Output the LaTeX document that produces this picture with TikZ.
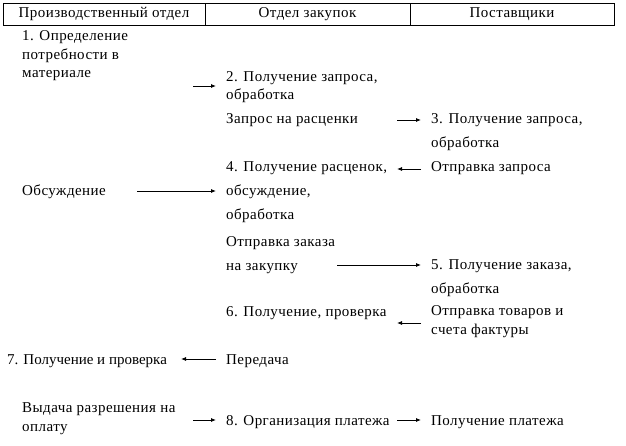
\documentclass[tikz,border=0pt]{standalone}
\usepackage{fontspec}
\setmainfont[LetterSpace=3]{Liberation Serif}
\usetikzlibrary{arrows.meta}

\begin{document}
\begin{tikzpicture}[
    x=1pt, y=-1pt,
    every node/.style={font=\fontsize{15}{18.5}\selectfont},
    head/.style={draw, line width=0.8pt, minimum height=22pt, inner sep=0pt},
    item/.style={anchor=base west, align=left, inner sep=0pt},
    wide/.style={font=\fontsize{15}{24}\selectfont},
    tight/.style={font=\fontsize{15}{18.5}\selectfont\addfontfeatures{LetterSpace=0}},
    arrow/.style={-{Latex[length=5pt, width=4pt]}, line width=0.8pt}
]
\useasboundingbox (0,0) rectangle (626,446);

% Header
\node[head, minimum width=202pt] (hprod) at (104,14) {Производственный отдел};
\node[head, minimum width=205pt] (hzak) at (307.5,14) {Отдел закупок};
\node[head, minimum width=204pt] (hpost) at (512,14) {Поставщики};

% Production department (anchor = last line)
\node[item] (need) at (22,78) {1. Определение\\потребности в\\материале};
\node[item] (discuss) at (22,196) {Обсуждение};
\node[item, tight] (check) at (7,364) {7. Получение и проверка};
\node[item] (permit) at (22,431) {Выдача разрешения на\\оплату};

% Purchasing department
\node[item] (req) at (226,100) {2. Получение запроса,\\обработка};
\node[item] (quote) at (226,124) {Запрос на расценки};
\node[item, wide] (prices) at (226,220) {4. Получение расценок,\\обсуждение,\\обработка};
\node[item, wide] (order) at (226,270) {Отправка заказа\\на закупку};
\node[item] (receive) at (226,316) {6. Получение, проверка};
\node[item] (handover) at (226,364) {Передача};
\node[item] (payment) at (226,425) {8. Организация платежа};

% Suppliers
\node[item, wide] (supreq) at (431,148) {3. Получение запроса,\\обработка};
\node[item] (sendreq) at (431,172) {Отправка запроса};
\node[item, wide] (suporder) at (431,293) {5. Получение заказа,\\обработка};
\node[item] (goods) at (431,334) {Отправка товаров и\\счета фактуры};
\node[item] (getpay) at (431,425) {Получение платежа};

% Arrow ends
\coordinate (a1s) at (193,86);  \coordinate (a1e) at (216,86);
\coordinate (a2s) at (397,120); \coordinate (a2e) at (421,120);
\coordinate (a3s) at (421,169); \coordinate (a3e) at (397,169);
\coordinate (a4s) at (137,191); \coordinate (a4e) at (216,191);
\coordinate (a5s) at (337,265); \coordinate (a5e) at (421,265);
\coordinate (a6s) at (421,323); \coordinate (a6e) at (397,323);
\coordinate (a7s) at (216,359); \coordinate (a7e) at (181,359);
\coordinate (a8s) at (193,420); \coordinate (a8e) at (216,420);
\coordinate (a9s) at (397,420); \coordinate (a9e) at (421,420);

% Arrows
\draw[arrow] (a1s) -- (a1e);
\draw[arrow] (a2s) -- (a2e);
\draw[arrow] (a3s) -- (a3e);
\draw[arrow] (a4s) -- (a4e);
\draw[arrow] (a5s) -- (a5e);
\draw[arrow] (a6s) -- (a6e);
\draw[arrow] (a7s) -- (a7e);
\draw[arrow] (a8s) -- (a8e);
\draw[arrow] (a9s) -- (a9e);

\end{tikzpicture}
\end{document}
